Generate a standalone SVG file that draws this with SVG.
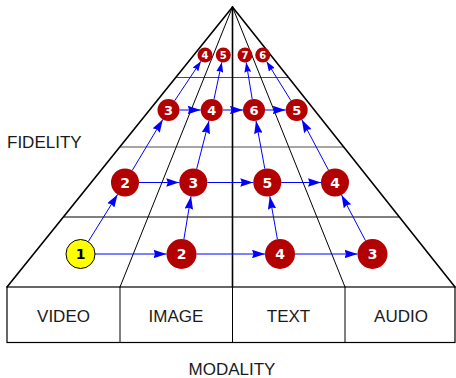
<svg xmlns="http://www.w3.org/2000/svg" width="456" height="378" viewBox="0 0 456 378">
  <style>
    .frame { fill: none; stroke: #000; stroke-linecap: round; }
    .outer { stroke-width: 1.6; }
    .inner { stroke-width: 1; }
    .level { stroke: #000; stroke-width: 1; }
    .box { fill: #fff; stroke: #000; stroke-width: 1.2; }
    .lbl { font-family: "Liberation Sans", Arial, sans-serif; font-size: 17px; fill: #1a1a1a; }
    .mid { text-anchor: middle; }
    .n { fill: #b30000; }
    .start { fill: #ffff00; stroke: #000; stroke-width: 1; }
    .num { font-family: "DejaVu Sans", sans-serif; font-weight: bold; fill: #fff; text-anchor: middle; }
    .numdark { fill: #000; }
    .edge { stroke: #0000ff; stroke-width: 1; fill: none; }
    .big { marker-end: url(#head); }
    .small { marker-end: url(#headSmall); }
  </style>
  <defs>
    <marker id="head" viewBox="0 0 13 8.5" refX="13" refY="4.25" markerWidth="13" markerHeight="8.5" markerUnits="userSpaceOnUse" orient="auto">
      <path d="M0,0 L13,4.25 L0,8.5 L1.5,4.25 z" fill="#0000ff"/>
    </marker>
    <marker id="headSmall" viewBox="0 0 10 7" refX="10" refY="3.5" markerWidth="10" markerHeight="7" markerUnits="userSpaceOnUse" orient="auto">
      <path d="M0,0 L10,3.5 L0,7 L1.2,3.5 z" fill="#0000ff"/>
    </marker>
  </defs>

  <!-- modality boxes -->
  <g id="modalities">
    <rect class="box" x="7" y="287" width="448" height="55.5"/>
    <line class="frame inner" x1="120" y1="287" x2="120" y2="342.5"/>
    <line class="frame inner" x1="232.5" y1="287" x2="232.5" y2="342.5"/>
    <line class="frame inner" x1="345" y1="287" x2="345" y2="342.5"/>
    <text class="lbl mid" x="63.5" y="321.5">VIDEO</text>
    <text class="lbl mid" x="176" y="321.5">IMAGE</text>
    <text class="lbl mid" x="288.5" y="321.5">TEXT</text>
    <text class="lbl mid" x="401" y="321.5">AUDIO</text>
  </g>

  <!-- pyramid frame -->
  <g id="pyramid">
    <line class="level" x1="175.7" y1="77.5" x2="288.5" y2="77.5" stroke-opacity="0.7"/>
    <line class="level" x1="119.7" y1="147" x2="343.8" y2="147" stroke-opacity="0.7"/>
    <line class="level" x1="63.4" y1="217" x2="399.4" y2="217" stroke-width="1.6"/>
    <line class="frame inner" x1="232.5" y1="7" x2="120" y2="287"/>
    <line class="frame inner" x1="232.5" y1="7" x2="345" y2="287"/>
    <line class="frame outer" x1="232.5" y1="7" x2="232.5" y2="287"/>
    <polyline class="frame outer" points="7,287 232.5,7 455,287"/>
  </g>

  <text class="lbl" x="7" y="148">FIDELITY</text>
  <text class="lbl mid" x="232" y="375">MODALITY</text>

  <!-- connectors -->
  <g id="connectors">
    <!-- level 1 -->
    <line class="edge big" x1="95" y1="254" x2="166.5" y2="254"/>
    <line class="edge big" x1="196.5" y1="254" x2="265" y2="254"/>
    <line class="edge big" x1="295" y1="254" x2="357.5" y2="254"/>
    <!-- level 1 to 2 -->
    <line class="edge big" x1="88.2" y1="241.7" x2="117.6" y2="194.4"/>
    <line class="edge big" x1="183.9" y1="239.2" x2="191" y2="196.3"/>
    <line class="edge big" x1="277.4" y1="239.2" x2="269.8" y2="196.3"/>
    <line class="edge big" x1="365.5" y1="240.7" x2="341.5" y2="194.9"/>
    <!-- level 2 -->
    <line class="edge big" x1="139" y1="182.5" x2="179.3" y2="182.5"/>
    <line class="edge big" x1="207.3" y1="182.5" x2="253.3" y2="182.5"/>
    <line class="edge big" x1="281.3" y1="182.5" x2="321" y2="182.5"/>
    <!-- level 2 to 3 -->
    <line class="edge big" x1="132.2" y1="170.5" x2="162.8" y2="119.4"/>
    <line class="edge big" x1="196.7" y1="168.9" x2="209" y2="120.7"/>
    <line class="edge big" x1="264.8" y1="168.7" x2="256" y2="120.8"/>
    <line class="edge big" x1="328.5" y1="170.1" x2="301.8" y2="119.7"/>
    <!-- level 3 -->
    <line class="edge big" x1="179.5" y1="110" x2="200.7" y2="110"/>
    <line class="edge big" x1="222.7" y1="110" x2="243" y2="110"/>
    <line class="edge big" x1="265" y1="110" x2="285.7" y2="110"/>
    <!-- level 3 to 4 -->
    <line class="edge small" x1="174.6" y1="100.8" x2="200.9" y2="61.3"/>
    <line class="edge small" x1="214" y1="99.2" x2="221.8" y2="62.3"/>
    <line class="edge small" x1="252.2" y1="99.1" x2="246.2" y2="62.4"/>
    <line class="edge small" x1="290.9" y1="100.6" x2="266.6" y2="61.4"/>
  </g>

  <!-- level 1 nodes -->
  <g id="video-1">
    <circle class="start" cx="80.5" cy="254" r="14.5"/>
    <text class="num numdark" x="80.5" y="259" font-size="14">1</text>
  </g>
  <g id="image-2">
    <circle class="n" cx="181.5" cy="254" r="15"/>
    <text class="num" x="181.5" y="259" font-size="14">2</text>
  </g>
  <g id="text-4">
    <circle class="n" cx="280" cy="254" r="15"/>
    <text class="num" x="280" y="259" font-size="14">4</text>
  </g>
  <g id="audio-3">
    <circle class="n" cx="372.5" cy="254" r="15"/>
    <text class="num" x="372.5" y="259" font-size="14">3</text>
  </g>

  <!-- level 2 nodes -->
  <g id="video-2">
    <circle class="n" cx="125" cy="182.5" r="14"/>
    <text class="num" x="125" y="187.5" font-size="14">2</text>
  </g>
  <g id="image-3">
    <circle class="n" cx="193.3" cy="182.5" r="14"/>
    <text class="num" x="193.3" y="187.5" font-size="14">3</text>
  </g>
  <g id="text-5">
    <circle class="n" cx="267.3" cy="182.5" r="14"/>
    <text class="num" x="267.3" y="187.5" font-size="14">5</text>
  </g>
  <g id="audio-4">
    <circle class="n" cx="335" cy="182.5" r="14"/>
    <text class="num" x="335" y="187.5" font-size="14">4</text>
  </g>

  <!-- level 3 nodes -->
  <g id="video-3">
    <circle class="n" cx="168.5" cy="110" r="11"/>
    <text class="num" x="168.5" y="114.7" font-size="13">3</text>
  </g>
  <g id="image-4">
    <circle class="n" cx="211.7" cy="110" r="11"/>
    <text class="num" x="211.7" y="114.7" font-size="13">4</text>
  </g>
  <g id="text-6">
    <circle class="n" cx="254" cy="110" r="11"/>
    <text class="num" x="254" y="114.7" font-size="13">6</text>
  </g>
  <g id="audio-5">
    <circle class="n" cx="296.7" cy="110" r="11"/>
    <text class="num" x="296.7" y="114.7" font-size="13">5</text>
  </g>

  <!-- level 4 nodes -->
  <g id="video-4">
    <circle class="n" cx="205" cy="55" r="7.5"/>
    <text class="num" x="205" y="58.7" font-size="10">4</text>
  </g>
  <g id="image-5">
    <circle class="n" cx="223.3" cy="55" r="7.5"/>
    <text class="num" x="223.3" y="58.7" font-size="10">5</text>
  </g>
  <g id="text-7">
    <circle class="n" cx="245" cy="55" r="7.5"/>
    <text class="num" x="245" y="58.7" font-size="10">7</text>
  </g>
  <g id="audio-6">
    <circle class="n" cx="262.7" cy="55" r="7.5"/>
    <text class="num" x="262.7" y="58.7" font-size="10">6</text>
  </g>
</svg>
